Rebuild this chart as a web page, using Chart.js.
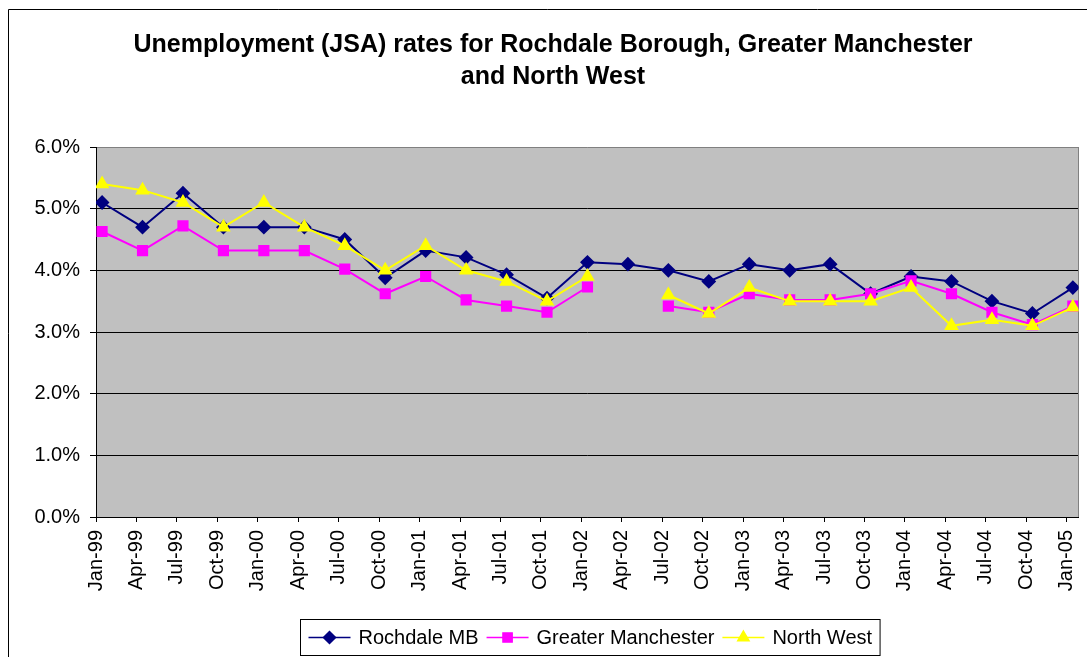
<!DOCTYPE html>
<html>
<head>
<meta charset="utf-8">
<title>Unemployment (JSA) rates</title>
<script src="https://cdn.jsdelivr.net/npm/chart.js@4/dist/chart.umd.min.js"></script>
<style>
  html, body { margin: 0; padding: 0; background: #fff; }
</style>
</head>
<body>
<canvas id="myChart" width="1087" height="657"></canvas>
<script>
// quarterly JSA rates, in %
const quarters = ['Jan-99', 'Apr-99', 'Jul-99', 'Oct-99', 'Jan-00', 'Apr-00', 'Jul-00', 'Oct-00',
  'Jan-01', 'Apr-01', 'Jul-01', 'Oct-01', 'Jan-02', 'Apr-02', 'Jul-02', 'Oct-02',
  'Jan-03', 'Apr-03', 'Jul-03', 'Oct-03', 'Jan-04', 'Apr-04', 'Jul-04', 'Oct-04', 'Jan-05']
const rochdale = [5.1, 4.7, 5.25, 4.7, 4.7, 4.7, 4.5, 3.88, 4.32, 4.21, 3.93, 3.55, 4.13,
  4.1, 4.0, 3.82, 4.1, 4.0, 4.1, 3.62, 3.9, 3.82, 3.5, 3.3, 3.72]
const greaterManchester = [4.63, 4.32, 4.72, 4.32, 4.32, 4.32, 4.02, 3.62, 3.9, 3.52, 3.42, 3.32, 3.73,
  null, 3.42, 3.32, 3.62, 3.52, 3.52, 3.62, 3.83, 3.62, 3.32, 3.12, 3.42]
const northWest = [5.4, 5.3, 5.1, 4.7, 5.1, 4.7, 4.4, 4.0, 4.4, 4.0, 3.82, 3.5, 3.9,
  null, 3.6, 3.3, 3.72, 3.5, 3.5, 3.5, 3.72, 3.1, 3.2, 3.1, 3.4]
const yTicks = [0, 1, 2, 3, 4, 5, 6]

const fontFamily = '"Liberation Sans", Arial, sans-serif'
Chart.defaults.font.family = fontFamily
Chart.defaults.color = '#000'

// values sit mid-month, a little right of the quarter tick
const midMonth = 0.15
function toPoints(arr) {
  return arr.map(function (v, i) { return { x: i + midMonth, y: v } })
}

// white page, grey plot area, outer frame
const frame = {
  id: 'frame',
  beforeDraw(chart) {
    const ctx = chart.ctx
    const a = chart.chartArea
    ctx.save()
    ctx.fillStyle = '#fff'
    ctx.fillRect(0, 0, chart.width, chart.height)
    ctx.fillStyle = '#c0c0c0'
    ctx.fillRect(a.left, a.top, a.right - a.left, a.bottom - a.top)
    ctx.strokeStyle = '#000'
    ctx.lineWidth = 1
    ctx.beginPath()
    ctx.moveTo(8.5, chart.height)
    ctx.lineTo(8.5, 9.5)
    ctx.lineTo(chart.width, 9.5)
    ctx.stroke()
    ctx.restore()
  },
  beforeDatasetsDraw(chart) {
    const ctx = chart.ctx
    const a = chart.chartArea
    ctx.save()
    ctx.strokeStyle = '#808080'
    ctx.lineWidth = 1
    ctx.beginPath()
    ctx.moveTo(Math.round(a.right) - 0.5, a.top)
    ctx.lineTo(Math.round(a.right) - 0.5, a.bottom)
    ctx.stroke()
    ctx.restore()
  }
}

// boxed legend with line + marker samples
const boxLegend = {
  id: 'boxLegend',
  afterDraw(chart) {
    const ctx = chart.ctx
    const sets = chart.data.datasets
    const lineLen = 42, gap = 8, pad = 8
    ctx.save()
    ctx.font = '20px ' + fontFamily
    let total = pad * 2
    sets.forEach(function (ds, i) {
      total += lineLen + gap + ctx.measureText(ds.label).width
      if (i < sets.length - 1) total += gap
    })
    const boxX = Math.round(589.5 - total / 2) + 0.5
    const boxY = 619.5, boxH = 36
    ctx.fillStyle = '#fff'
    ctx.fillRect(boxX, boxY, total, boxH)
    ctx.strokeStyle = '#000'
    ctx.lineWidth = 1
    ctx.strokeRect(boxX, boxY, total, boxH)
    const cy = boxY + boxH / 2
    let x = boxX + pad
    sets.forEach(function (ds) {
      ctx.strokeStyle = ds.borderColor
      ctx.lineWidth = 1.5
      ctx.beginPath()
      ctx.moveTo(x, cy)
      ctx.lineTo(x + lineLen, cy)
      ctx.stroke()
      ctx.fillStyle = ds.pointBackgroundColor
      ctx.strokeStyle = ds.pointBorderColor
      Chart.helpers.drawPoint(ctx, {
        pointStyle: ds.pointStyle, radius: ds.pointRadius, rotation: 0, borderWidth: 1
      }, x + lineLen / 2, cy)
      x += lineLen + gap
      ctx.fillStyle = '#000'
      ctx.textBaseline = 'middle'
      ctx.textAlign = 'left'
      ctx.fillText(ds.label, x, cy + 1)
      x += ctx.measureText(ds.label).width + gap
    })
    ctx.restore()
  }
}

const datachart = {
  datasets: [{
    label: 'Rochdale MB',
    data: toPoints(rochdale),
    borderColor: '#000080',
    backgroundColor: '#000080',
    pointBackgroundColor: '#000080',
    pointBorderColor: '#000080',
    pointStyle: 'rectRot',
    pointRadius: 6,
    borderWidth: 2,
    order: 2
  }, {
    label: 'Greater Manchester',
    data: toPoints(greaterManchester),
    borderColor: '#ff00ff',
    backgroundColor: '#ff00ff',
    pointBackgroundColor: '#ff00ff',
    pointBorderColor: '#ff00ff',
    pointStyle: 'rect',
    pointRadius: 6.5,
    borderWidth: 2,
    order: 1
  }, {
    label: 'North West',
    data: toPoints(northWest),
    borderColor: '#ffff00',
    backgroundColor: '#ffff00',
    pointBackgroundColor: '#ffff00',
    pointBorderColor: '#ffff00',
    pointStyle: 'triangle',
    pointRadius: 6.5,
    borderWidth: 2,
    order: 0
  }]
}

const config = {
  type: 'line',
  data: datachart,
  options: {
    responsive: false,
    animation: false,
    spanGaps: false,
    // left padding + y axis width put the plot at x=96 and centre the title like the original
    layout: { padding: { left: 26, right: 7, top: 0, bottom: 0 } },
    plugins: {
      legend: { display: false },
      tooltip: { enabled: false },
      title: {
        display: true,
        text: ['Unemployment (JSA) rates for Rochdale Borough, Greater Manchester', 'and North West'],
        font: { size: 25, weight: 'bold', lineHeight: 1.28 },
        color: '#000',
        padding: { top: 29, bottom: 54 }
      }
    },
    scales: {
      x: {
        type: 'linear',
        min: 0,
        max: quarters.length - 1 + 0.29,
        afterFit: function (s) {
          s.height = 140
          s.paddingLeft = 0
          s.paddingRight = 0
        },
        grid: { drawOnChartArea: false, tickLength: 5, tickColor: '#000' },
        border: { color: '#000', width: 1 },
        ticks: {
          stepSize: 1,
          includeBounds: false,
          autoSkip: false,
          maxRotation: 90,
          minRotation: 90,
          padding: 8,
          font: { size: 20 },
          callback: function (v) { return quarters[v] }
        }
      },
      y: {
        min: yTicks[0],
        max: yTicks[yTicks.length - 1],
        afterFit: function (s) { s.width = 70 },
        afterBuildTicks: function (s) { s.ticks = yTicks.map(function (v) { return { value: v } }) },
        grid: {
          color: function (c) { return c.tick && c.tick.value === 6 ? '#808080' : '#000' },
          tickLength: 6,
          tickColor: '#000'
        },
        border: { color: '#000', width: 1 },
        ticks: {
          padding: 10,
          font: { size: 20 },
          callback: function (v) { return v.toFixed(1) + '%' }
        }
      }
    }
  },
  plugins: [frame, boxLegend]
}

const myChart = new Chart(document.getElementById('myChart'), config)
</script>
</body>
</html>
